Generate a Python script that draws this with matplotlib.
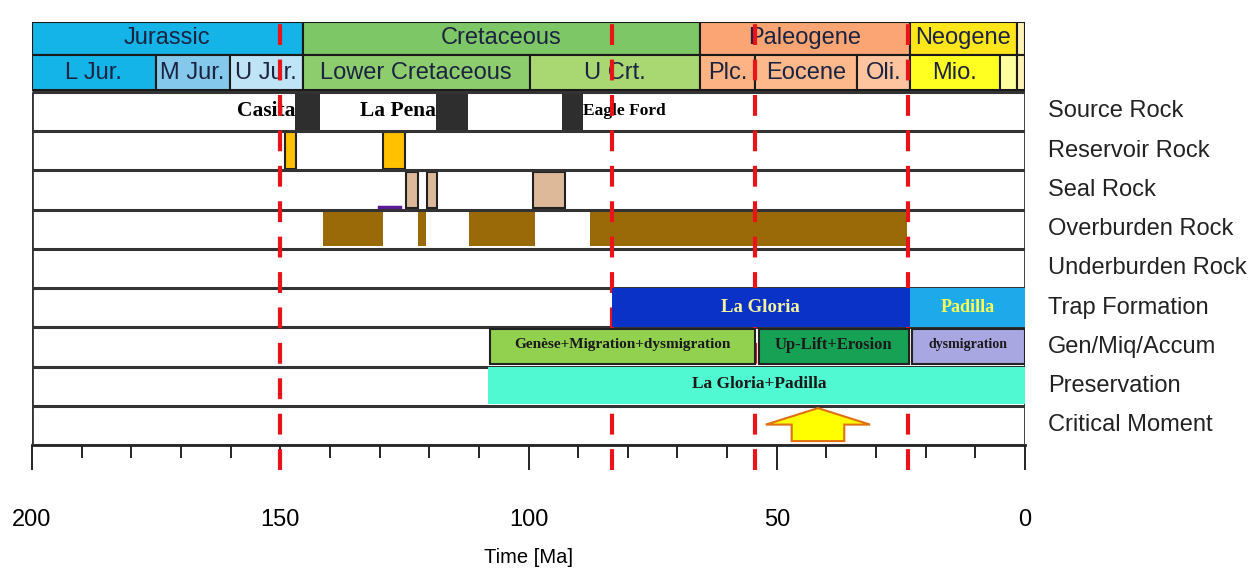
import matplotlib.pyplot as plt
import matplotlib.patches as mpatches

plt.rcParams['font.family'] = ['Liberation Sans', 'DejaVu Sans']

# geologic time scale (Ma)
periods = ['Jurassic', 'Cretaceous', 'Paleogene', 'Neogene', '']
period_bounds = [200, 145.5, 65.5, 23.2, 1.6, 0]
period_colors = ['#14B3E8', '#7EC767', '#FCA574', '#FFE61A', '#FEF3B5']

epochs = ['L Jur.', 'M Jur.', 'U Jur.', 'Lower Cretaceous', 'U Crt.',
          'Plc.', 'Eocene', 'Oli.', 'Mio.', '', '']
epoch_bounds = [200, 175.1, 160.2, 145.5, 99.7, 65.5, 54.4, 33.8, 23.2, 5.0, 1.6, 0]
epoch_colors = ['#14B3E8', '#84C9EB', '#BFE4F6', '#8DCD6E', '#A9D873',
                '#FDB383', '#FDB98C', '#FDC49F', '#FFFF22', '#FFFFA0', '#FEF3B5']

row_labels = ['Source Rock', 'Reservoir Rock', 'Seal Rock', 'Overburden Rock',
              'Underburden Rock', 'Trap Formation', 'Gen/Miq/Accum',
              'Preservation', 'Critical Moment']

source_spans = [(147.0, 142.0), (118.6, 112.2), (93.3, 89.0)]
source_names = ['Casita', 'La Pena', 'Eagle Ford']
source_sizes = [15.5, 15.5, 12.5]
reservoir_spans = [(149.0, 146.8), (129.3, 124.9)]
seal_spans = [(124.7, 122.3), (120.4, 118.4), (99.1, 92.6)]
seal_marks = [(130.1, 125.9)]   # small purple stroke near the bottom of the seal row
overburden_spans = [(141.4, 129.3), (122.3, 120.6), (112.0, 98.7), (87.6, 23.8)]
trap_spans = [(83.2, 23.2), (23.2, 0)]
trap_names = ['La Gloria', 'Padilla']
trap_colors = ['#0B32C6', '#1EA9EA']
gen_spans = [(107.8, 54.4), (53.6, 23.4), (22.8, 0)]
gen_names = ['Genèse+Migration+dysmigration', 'Up-Lift+Erosion', 'dysmigration']
gen_colors = ['#92D050', '#17A155', '#A9A7E2']
gen_sizes = [11, 12, 10]
preservation_span = (108.2, 0)
preservation_name = 'La Gloria+Padilla'
preservation_label_x = 53.6
critical_moment = 41.7
red_lines = [150, 83.2, 54.4, 23.5]

fig = plt.figure(figsize=(12.52, 5.76), dpi=100)
ax = fig.add_axes([32 / 1252, 131 / 576, 993 / 1252, 423 / 576])
ax.set_xlim(200, 0)
ax.set_ylim(0, 10.78)

n = len(row_labels)


def row_y(i):
    # bottom of row i (counting from the top)
    return n - 1 - i


# header: periods and epochs
for k, name in enumerate(periods):
    x0, x1 = period_bounds[k], period_bounds[k + 1]
    ax.add_patch(mpatches.Rectangle((x1, 9.94), x0 - x1, 0.84, fc=period_colors[k],
                                    ec='#1a1a1a', lw=1.5, zorder=2))
    ax.text((x0 + x1) / 2, 10.36, name, ha='center', va='center', fontsize=17,
            color='#1c2340', zorder=3)
for k, name in enumerate(epochs):
    x0, x1 = epoch_bounds[k], epoch_bounds[k + 1]
    ax.add_patch(mpatches.Rectangle((x1, 9.05), x0 - x1, 0.89, fc=epoch_colors[k],
                                    ec='#1a1a1a', lw=1.5, zorder=2))
    ax.text((x0 + x1) / 2, 9.49, name, ha='center', va='center', fontsize=17,
            color='#1c2340', zorder=3)

# row frame
ax.hlines(range(0, n + 1), 200, 0, color='#333333', lw=2.2, zorder=4)
ax.vlines([200, 0], 0, n, color='#333333', lw=2, zorder=4)

# source rock
y = row_y(0)
for x0, x1 in source_spans:
    ax.add_patch(mpatches.Rectangle((x1, y), x0 - x1, 1, fc='#2E2E2E', ec='none', zorder=2))
for k, (name, fs) in enumerate(zip(source_names, source_sizes)):
    x0, x1 = source_spans[k]
    if k < 2:
        ax.text(x0, y + 0.5, name, ha='right', va='center', fontsize=fs,
                fontweight='bold', family='Liberation Serif', zorder=3)
    else:
        ax.text(x1, y + 0.5, name, ha='left', va='center', fontsize=fs,
                fontweight='bold', family='Liberation Serif', zorder=3)

# reservoir rock
y = row_y(1)
for x0, x1 in reservoir_spans:
    ax.add_patch(mpatches.Rectangle((x1, y + 0.03), x0 - x1, 0.94, fc='#FFC000',
                                    ec='#222222', lw=1.5, zorder=2))

# seal rock
y = row_y(2)
for x0, x1 in seal_spans:
    ax.add_patch(mpatches.Rectangle((x1, y + 0.03), x0 - x1, 0.94, fc='#DDB899',
                                    ec='#222222', lw=1.5, zorder=2))
for x0, x1 in seal_marks:
    ax.plot([x0, x1], [y + 0.07, y + 0.07], color='#5B1A9A', lw=2.5, zorder=3)

# overburden rock
y = row_y(3)
for x0, x1 in overburden_spans:
    ax.add_patch(mpatches.Rectangle((x1, y + 0.08), x0 - x1, 0.86, fc='#9B6A08',
                                    ec='none', zorder=2))

# trap formation
y = row_y(5)
for (x0, x1), c in zip(trap_spans, trap_colors):
    ax.add_patch(mpatches.Rectangle((x1, y), x0 - x1, 1, fc=c, ec='none', zorder=6))
ax.text(sum(trap_spans[0]) / 2, y + 0.5, trap_names[0], ha='center', va='center',
        fontsize=13.5, fontweight='bold', family='Liberation Serif', color='#F2F2A0', zorder=7)
ax.text(sum(trap_spans[1]) / 2, y + 0.5, trap_names[1], ha='center', va='center',
        fontsize=13, fontweight='bold', family='Liberation Serif', color='#FFFF55', zorder=7)

# generation / migration / accumulation
y = row_y(6)
for (x0, x1), name, c, fs in zip(gen_spans, gen_names, gen_colors, gen_sizes):
    ax.add_patch(mpatches.Rectangle((x1, y + 0.07), x0 - x1, 0.88, fc=c,
                                    ec='#222222', lw=1.5, zorder=6))
    ax.text((x0 + x1) / 2, y + 0.55, name, ha='center', va='center', fontsize=fs,
            fontweight='bold', family='Liberation Serif', color='#1a1a1a', zorder=7)

# preservation
y = row_y(7)
x0, x1 = preservation_span
ax.add_patch(mpatches.Rectangle((x1, y + 0.05), x0 - x1, 0.93, fc='#50F9D1',
                                ec='none', zorder=6))
ax.text(preservation_label_x, y + 0.55, preservation_name, ha='center', va='center',
        fontsize=12.5, fontweight='bold', family='Liberation Serif', color='#1a1a1a', zorder=7)

# critical moment
y = row_y(8)
ax.add_patch(mpatches.FancyArrow(critical_moment, y + 0.1, 0, 0.84, width=10.6,
                                 head_width=21, head_length=0.42,
                                 length_includes_head=True, fc='#FFFF00',
                                 ec='#E07010', lw=1.5, zorder=6))

# red dashed lines
for x in red_lines:
    ax.plot([x, x], [-0.64, 11.03], color='#E8141A', lw=3, ls=(0, (5, 3.5)),
            clip_on=False, zorder=5)

# row labels on the right
for i, lab in enumerate(row_labels):
    ax.text(1.0232, row_y(i) + 0.5, lab, transform=ax.get_yaxis_transform(),
            ha='left', va='center', fontsize=17, color='#222222')

# axes
for s in ['top', 'left', 'right']:
    ax.spines[s].set_visible(False)
ax.spines['bottom'].set_linewidth(2)
ax.spines['bottom'].set_color('#222222')
ax.set_yticks([])
ax.set_xticks(range(0, 201, 50))
ax.set_xticks(range(0, 201, 10), minor=True)
ax.tick_params(axis='x', which='major', length=18, width=1.2, pad=28, labelsize=17)
ax.tick_params(axis='x', which='minor', length=9, width=1.2)
ax.set_xlabel('Time [Ma]', fontsize=14.5, labelpad=12)

plt.savefig('out.png', dpi=100)
plt.close()
